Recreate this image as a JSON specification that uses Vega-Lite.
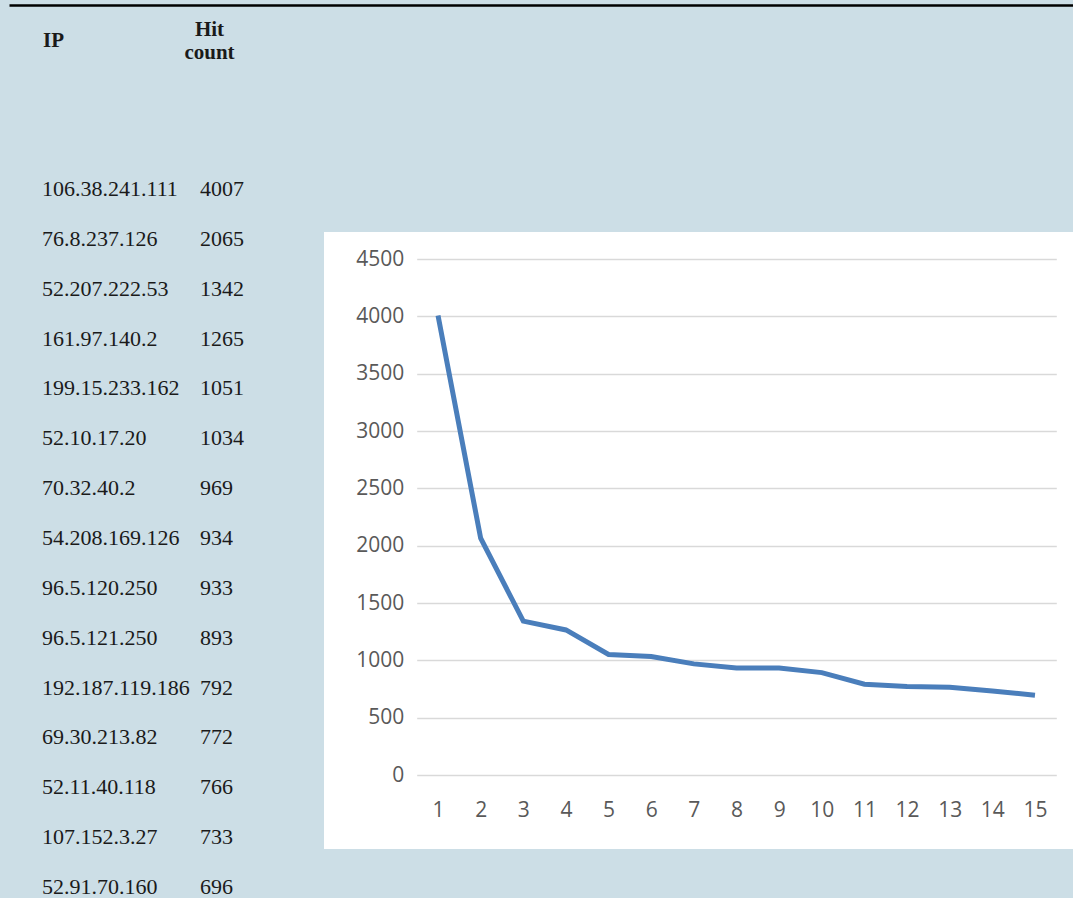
{
  "$schema": "https://vega.github.io/schema/vega-lite/v6.json",
  "background": "#ccdee6",
  "padding": {"left": 9, "top": 5, "right": 0, "bottom": 0},
  "bounds": "flush",
  "spacing": 0,
  "config": {"view": {"stroke": null}, "axis": {"labelOverlap": false}},
  "data": {
    "values": [
      {"rank": 1, "ip": "106.38.241.111", "hits": 4007},
      {"rank": 2, "ip": "76.8.237.126", "hits": 2065},
      {"rank": 3, "ip": "52.207.222.53", "hits": 1342},
      {"rank": 4, "ip": "161.97.140.2", "hits": 1265},
      {"rank": 5, "ip": "199.15.233.162", "hits": 1051},
      {"rank": 6, "ip": "52.10.17.20", "hits": 1034},
      {"rank": 7, "ip": "70.32.40.2", "hits": 969},
      {"rank": 8, "ip": "54.208.169.126", "hits": 934},
      {"rank": 9, "ip": "96.5.120.250", "hits": 933},
      {"rank": 10, "ip": "96.5.121.250", "hits": 893},
      {"rank": 11, "ip": "192.187.119.186", "hits": 792},
      {"rank": 12, "ip": "69.30.213.82", "hits": 772},
      {"rank": 13, "ip": "52.11.40.118", "hits": 766},
      {"rank": 14, "ip": "107.152.3.27", "hits": 733},
      {"rank": 15, "ip": "52.91.70.160", "hits": 696}
    ]
  },
  "hconcat": [
    {
      "width": 315,
      "height": 666,
      "layer": [
        {
          "mark": {"type": "text", "align": "left", "baseline": "middle", "dx": -11, "font": "Liberation Serif", "fontSize": 22, "color": "#1a1a1a"},
          "encoding": {
            "x": {
              "datum": "IP",
              "type": "nominal",
              "scale": {"type": "point", "domain": ["IP", "Hit count"], "range": [44, 200], "padding": 0},
              "axis": {
                "orient": "top", "offset": 227, "title": null, "grid": false,
                "domain": false, "ticks": false, "tickSize": 0,
                "labelPadding": -24,
                "labelBaseline": {"condition": {"test": "datum.value == 'IP'", "value": "top"}, "value": "middle"},
                "labelAlign": "center", "labelAngle": 0,
                "labelFont": "Liberation Serif", "labelFontSize": 21, "labelFontWeight": "bold", "labelColor": "#1a1a1a",
                "labelLineHeight": 23, "labelExpr": "split(datum.label, ' ')"
              }
            },
            "y": {"field": "rank", "type": "ordinal", "scale": {"type": "point", "range": [-43, 655], "padding": 0}, "axis": null},
            "text": {"field": "ip", "type": "nominal"}
          }
        },
        {
          "mark": {"type": "text", "align": "left", "baseline": "middle", "dx": -9, "font": "Liberation Serif", "fontSize": 22, "color": "#1a1a1a"},
          "encoding": {
            "x": {
              "datum": "Hit count",
              "type": "nominal",
              "scale": {"type": "point", "domain": ["IP", "Hit count"], "range": [44, 200], "padding": 0},
              "axis": null
            },
            "y": {"field": "rank", "type": "ordinal"},
            "text": {"field": "hits", "type": "nominal"}
          }
        },
        {
          "data": {"values": []},
          "mark": {"type": "rule", "color": "#000000"},
          "encoding": {
            "x": {
              "datum": 0,
              "type": "quantitative",
              "scale": {"domain": [0, 1], "range": [0, 1064], "nice": false, "zero": false},
              "axis": {
                "orient": "top", "offset": 227, "title": null, "grid": false, "labels": false,
                "ticks": false, "tickSize": 0, "domain": true, "domainColor": "#000000", "domainWidth": 2.5, "domainCap": "butt"
              }
            }
          }
        }
      ],
      "resolve": {"scale": {"x": "independent"}, "axis": {"x": "independent"}}
    },
    {
      "width": 749,
      "height": 617,
      "view": {"fill": "#ffffff", "stroke": null},
      "mark": {"type": "line", "color": "#4a7ebb", "strokeWidth": 5},
      "encoding": {
        "x": {
          "field": "rank", "type": "ordinal",
          "scale": {"type": "point", "range": [92.7, 732.3], "padding": 0.5},
          "axis": {
            "title": null, "orient": "bottom", "offset": -74, "domain": false, "ticks": false, "tickSize": 0, "grid": false,
            "labelAngle": 0, "labelPadding": 24, "labelFont": "Open Sans", "labelFontSize": 21, "labelColor": "#595959"
          }
        },
        "y": {
          "field": "hits", "type": "quantitative",
          "scale": {"domain": [0, 4500], "range": [543, 27], "nice": false, "zero": true},
          "axis": {
            "title": null, "offset": -92.7, "domain": false, "ticks": false, "tickSize": 0, "format": "d",
            "values": [0, 500, 1000, 1500, 2000, 2500, 3000, 3500, 4000, 4500],
            "grid": true, "gridColor": "#d9d9d9", "gridWidth": 1.5,
            "labelPadding": 13, "labelFont": "Open Sans", "labelFontSize": 21, "labelColor": "#595959"
          }
        }
      }
    }
  ]
}
